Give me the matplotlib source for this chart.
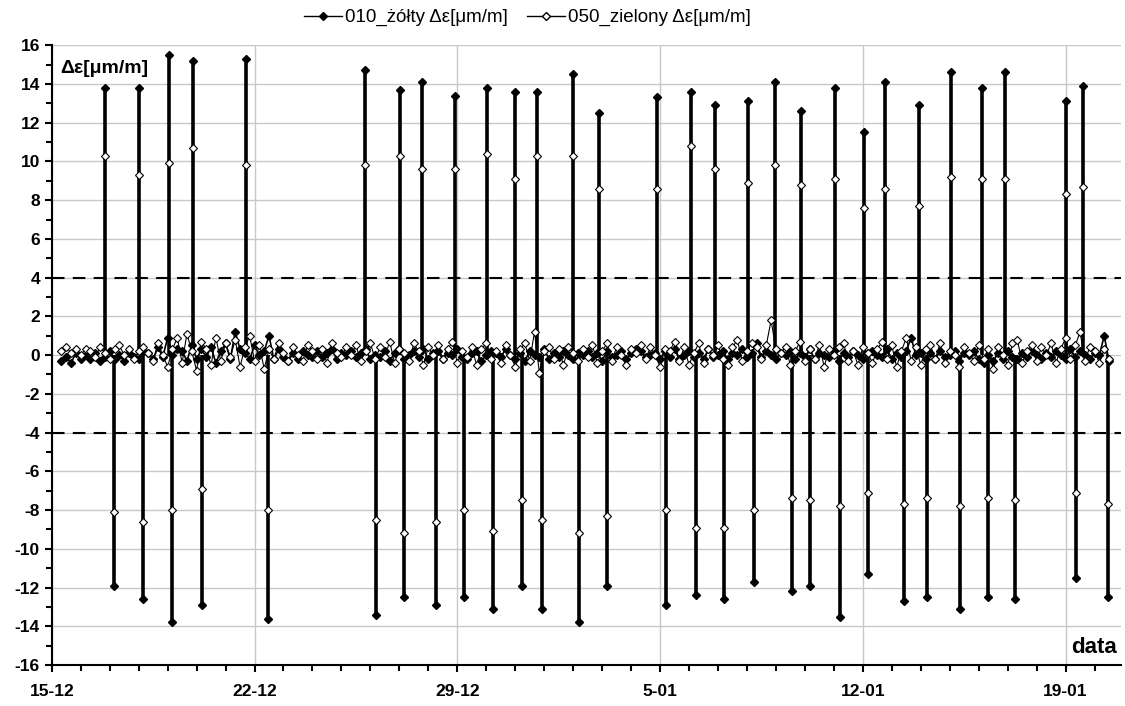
import matplotlib
matplotlib.use("Agg")
import matplotlib.pyplot as plt
import matplotlib.dates as mdates
from matplotlib.lines import Line2D
from matplotlib.ticker import MultipleLocator
import pandas as pd

plt.rcParams['font.family'] = ['Liberation Sans', 'DejaVu Sans']
plt.rcParams['axes.unicode_minus'] = False

# baseline readings, every 4 hours from 15-12 08:00 (one row = one day)
black_base = [
    -0.3, -0.1, -0.4, 0.1, -0.2, 0.0,
    -0.2, 0.1, -0.3, -0.1, 0.2, -0.2,
    0.0, -0.3, 0.1, -0.1, -0.2, 0.2,
    0.1, -0.2, 0.4, -0.1, 0.9, 0.0,
    0.3, 0.2, -0.3, 0.5, -0.2, 0.3,
    -0.1, 0.4, -0.4, 0.2, 0.6, -0.2,
    1.2, 0.3, 0.1, -0.2, 0.5, 0.0,
    0.2, 1.0, -0.2, 0.3, -0.1, -0.3,
    0.1, -0.2, 0.2, 0.0, -0.1, 0.2,
    -0.1, 0.1, 0.3, -0.2, 0.1, 0.0,
    0.2, -0.1, 0.1, 0.3, -0.2, 0.0,
    -0.1, 0.2, -0.3, 0.1, 0.3, -0.2,
    0.0, 0.2, -0.1, 0.3, -0.2, 0.1,
    0.2, -0.2, 0.1, 0.0, 0.3, -0.1,
    -0.2, 0.1, 0.2, -0.3, 0.0, 0.2,
    0.1, -0.1, 0.3, 0.0, -0.2, 0.1,
    -0.3, 0.2, 0.0, -0.1, 0.3, -0.2,
    0.1, -0.1, 0.2, 0.0, -0.2, 0.1,
    0.0, 0.2, -0.1, 0.1, -0.3, 0.2,
    -0.1, 0.0, 0.2, -0.2, 0.1, 0.3,
    0.2, -0.1, 0.0, 0.1, -0.2, 0.2,
    -0.1, 0.3, -0.2, 0.0, 0.2, -0.1,
    0.1, -0.2, 0.3, -0.1, 0.0, 0.2,
    -0.2, 0.1, 0.0, 0.3, -0.1, 0.1,
    0.6, -0.1, 0.2, 0.0, -0.2, 0.1,
    0.0, 0.2, -0.2, 0.1, -0.1, 0.3,
    -0.2, 0.1, 0.0, -0.1, 0.2, -0.3,
    0.1, -0.1, 0.2, 0.0, -0.2, 0.1,
    0.2, 0.0, -0.1, 0.3, -0.2, 0.1,
    -0.1, 0.2, 0.9, 0.0, 0.1, -0.2,
    0.1, -0.2, 0.2, -0.1, 0.0, 0.2,
    -0.3, 0.1, 0.0, 0.2, -0.2, -0.4,
    0.0, -0.3, 0.1, -0.2, 0.2, -0.1,
    -0.2, 0.1, -0.1, 0.2, 0.0, -0.2,
    0.1, -0.1, 0.2, 0.0, -0.2, 0.3,
    -0.1, 0.2, 0.0, -0.2, 0.1, 0.0,
    1.0, -0.3,
]
white_base = [
    0.2, 0.4, 0.1, 0.3, 0.0, 0.3,
    0.2, -0.1, 0.4, 0.1, -0.2, 0.3,
    0.5, 0.0, 0.3, -0.2, 0.2, 0.4,
    0.1, -0.3, 0.6, 0.0, -0.6, 0.3,
    0.9, -0.4, 1.1, 0.2, -0.8, 0.7,
    0.3, -0.5, 0.9, -0.3, 0.6, -0.1,
    0.8, -0.6, 0.4, 1.0, -0.3, 0.5,
    -0.7, 0.3, -0.2, 0.6, 0.1, -0.3,
    0.4, 0.0, -0.3, 0.5, 0.2, -0.2,
    0.3, -0.4, 0.6, 0.1, -0.1, 0.4,
    0.0, 0.5, -0.3, 0.2, 0.6, -0.2,
    0.4, -0.1, 0.7, -0.4, 0.3, 0.1,
    -0.3, 0.6, 0.2, -0.5, 0.4, 0.0,
    0.5, -0.2, 0.3, 0.7, -0.4, 0.2,
    -0.1, 0.4, -0.5, 0.3, 0.6, -0.2,
    0.2, -0.4, 0.5, 0.0, -0.6, 0.3,
    0.6, -0.3, 1.2, -0.9, 0.2, 0.4,
    -0.2, 0.3, -0.5, 0.4, 0.1, -0.3,
    0.3, -0.1, 0.5, -0.4, 0.2, 0.6,
    -0.3, 0.4, 0.0, -0.5, 0.3, 0.1,
    0.5, -0.2, 0.4, 0.0, -0.6, 0.3,
    0.2, 0.7, -0.3, 0.4, -0.5, 0.1,
    0.6, -0.4, 0.3, 0.0, 0.5, -0.2,
    -0.5, 0.4, 0.8, -0.3, 0.2, 0.6,
    0.4, -0.2, 0.5, 1.8, 0.3, 0.1,
    0.4, -0.5, 0.2, 0.7, -0.3, 0.3,
    -0.2, 0.5, -0.6, 0.3, 0.0, 0.4,
    0.6, -0.3, 0.2, -0.5, 0.4, 0.1,
    -0.4, 0.3, 0.7, -0.2, 0.5, -0.6,
    0.2, 0.9, -0.3, 0.4, -0.5, 0.3,
    0.5, -0.2, 0.6, -0.4, 0.2, 0.0,
    -0.6, 0.4, 0.1, -0.3, 0.5, -0.2,
    0.3, -0.7, 0.4, 0.0, -0.5, 0.6,
    0.8, -0.4, 0.2, 0.5, -0.3, 0.4,
    0.0, 0.6, -0.4, 0.3, 0.9, -0.2,
    0.5, 1.2, -0.3, 0.4, 0.2, -0.4,
    0.3, -0.2,
]

# positive test peaks
up_times = ['2010-12-16 20:00', '2010-12-18 00:30', '2010-12-19 00:45', '2010-12-19 20:40',
            '2010-12-21 16:50', '2010-12-25 19:10', '2010-12-27 00:30', '2010-12-27 18:30',
            '2010-12-28 21:50', '2010-12-30 00:45', '2010-12-30 23:45', '2010-12-31 18:00',
            '2011-01-02 00:00', '2011-01-02 21:20', '2011-01-04 21:20', '2011-01-06 01:40',
            '2011-01-06 21:35', '2011-01-08 00:45', '2011-01-08 22:50', '2011-01-09 20:50',
            '2011-01-11 01:10', '2011-01-12 01:10', '2011-01-12 18:40', '2011-01-13 22:20',
            '2011-01-15 01:25', '2011-01-16 02:50', '2011-01-16 21:35', '2011-01-19 00:00',
            '2011-01-19 14:25']
up_black = [13.8, 13.8, 15.5, 15.2, 15.3, 14.7, 13.7, 14.1, 13.4, 13.8, 13.6, 13.6, 14.5, 12.5,
            13.3, 13.6, 12.9, 13.1, 14.1, 12.6, 13.8, 11.5, 14.1, 12.9, 14.6, 13.8, 14.6, 13.1, 13.9]
up_white = [10.3, 9.3, 9.9, 10.7, 9.8, 9.8, 10.3, 9.6, 9.6, 10.4, 9.1, 10.3, 10.3, 8.6,
            8.6, 10.8, 9.6, 8.9, 9.8, 8.8, 9.1, 7.6, 8.6, 7.7, 9.2, 9.1, 9.1, 8.3, 8.7]

# negative test peaks
down_times = ['2010-12-17 03:20', '2010-12-18 03:20', '2010-12-19 03:20', '2010-12-20 04:30',
              '2010-12-22 11:00', '2010-12-26 04:20', '2010-12-27 03:35', '2010-12-28 06:40',
              '2010-12-29 05:15', '2010-12-30 05:30', '2010-12-31 05:15', '2010-12-31 22:20',
              '2011-01-02 04:50', '2011-01-03 04:05', '2011-01-05 04:50', '2011-01-06 05:45',
              '2011-01-07 04:35', '2011-01-08 06:00', '2011-01-09 13:10', '2011-01-10 03:50',
              '2011-01-11 05:15', '2011-01-12 04:20', '2011-01-13 10:20', '2011-01-14 05:15',
              '2011-01-15 08:50', '2011-01-16 07:40', '2011-01-17 06:30', '2011-01-19 08:25',
              '2011-01-20 10:50']
down_black = [-11.9, -12.6, -13.8, -12.9, -13.6, -13.4, -12.5, -12.9, -12.5, -13.1, -11.9, -13.1,
              -13.8, -11.9, -12.9, -12.4, -12.6, -11.7, -12.2, -11.9, -13.5, -11.3, -12.7, -12.5,
              -13.1, -12.5, -12.6, -11.5, -12.5]
down_white = [-8.1, -8.6, -8.0, -6.9, -8.0, -8.5, -9.2, -8.6, -8.0, -9.1, -7.5, -8.5,
              -9.2, -8.3, -8.0, -8.9, -8.9, -8.0, -7.4, -7.5, -7.8, -7.1, -7.7, -7.4,
              -7.8, -7.4, -7.5, -7.1, -7.7]

week_ticks = ['2010-12-15', '2010-12-22', '2010-12-29', '2011-01-05', '2011-01-12', '2011-01-19']

label_black = '010_żółty Δε[μm/m]'
label_white = '050_zielony Δε[μm/m]'

t_black = pd.date_range('2010-12-15 08:00', periods=len(black_base), freq='4h')
t_white = pd.date_range('2010-12-15 08:00', periods=len(white_base), freq='4h')
t_up = pd.to_datetime(up_times)
t_down = pd.to_datetime(down_times)

fig = plt.figure(figsize=(11.25, 7.06), dpi=100)
ax = fig.add_axes([0.046, 0.058, 0.95, 0.878])

# spikes
ax.vlines(t_up, 0, up_black, color='k', lw=2.6, zorder=3)
ax.vlines(t_down, 0, down_black, color='k', lw=2.6, zorder=3)

ax.plot(t_black, black_base, color='k', lw=1.2, marker='D', ms=4.2, mfc='k', mec='k', zorder=4)
ax.plot(t_white, white_base, color='k', lw=0.8, marker='D', ms=4.5, mfc='white', mec='k',
        mew=0.8, zorder=5)

ax.plot(t_up, up_black, ls='none', marker='D', ms=4, mfc='k', mec='k', zorder=6)
ax.plot(t_down, down_black, ls='none', marker='D', ms=4, mfc='k', mec='k', zorder=6)
ax.plot(t_up, up_white, ls='none', marker='D', ms=4, mfc='white', mec='k', mew=0.8, zorder=6)
ax.plot(t_down, down_white, ls='none', marker='D', ms=4, mfc='white', mec='k', mew=0.8, zorder=6)

# limits
ax.axhline(4, color='k', lw=1.5, ls=(0, (6, 4)), zorder=2)
ax.axhline(-4, color='k', lw=1.5, ls=(0, (6, 4)), zorder=2)

ax.set_ylim(-16, 16)
ax.set_xlim(pd.Timestamp('2010-12-15 00:00'), pd.Timestamp('2011-01-20 21:30'))
ax.yaxis.set_major_locator(MultipleLocator(2))
ax.yaxis.set_minor_locator(MultipleLocator(1))
ax.set_xticks(pd.to_datetime(week_ticks))
ax.xaxis.set_minor_locator(mdates.DayLocator())
ax.xaxis.set_major_formatter(mdates.DateFormatter('%-d-%m'))

ax.grid(True, which='major', color='#c8c8c8', lw=1)
ax.set_axisbelow(True)
for s in ['top', 'right']:
    ax.spines[s].set_visible(False)
ax.spines['left'].set_linewidth(1.5)
ax.spines['bottom'].set_linewidth(1.5)
ax.tick_params(axis='both', which='major', length=5, width=1.5, labelsize=12.5, direction='out')
ax.tick_params(axis='x', which='major', pad=9)
ax.tick_params(axis='both', which='minor', length=4, width=1.5, direction='out')
for lab in ax.get_xticklabels() + ax.get_yticklabels():
    lab.set_fontweight('bold')

ax.text(0.008, 0.976, 'Δε[μm/m]', transform=ax.transAxes, fontsize=14, fontweight='bold',
        ha='left', va='top')
ax.text(0.997, 0.012, 'data', transform=ax.transAxes, fontsize=16, fontweight='bold',
        ha='right', va='bottom')

handles = [Line2D([], [], color='k', lw=1, marker='D', ms=4, mfc='k', mec='k'),
           Line2D([], [], color='k', lw=1, marker='D', ms=4, mfc='white', mec='k')]
fig.legend(handles, [label_black, label_white], loc='center', bbox_to_anchor=(0.469, 0.975),
           ncol=2, frameon=False, fontsize=13.5, handlelength=2.0, handletextpad=0.2,
           columnspacing=1.0)

plt.savefig('out.png', dpi=100)
